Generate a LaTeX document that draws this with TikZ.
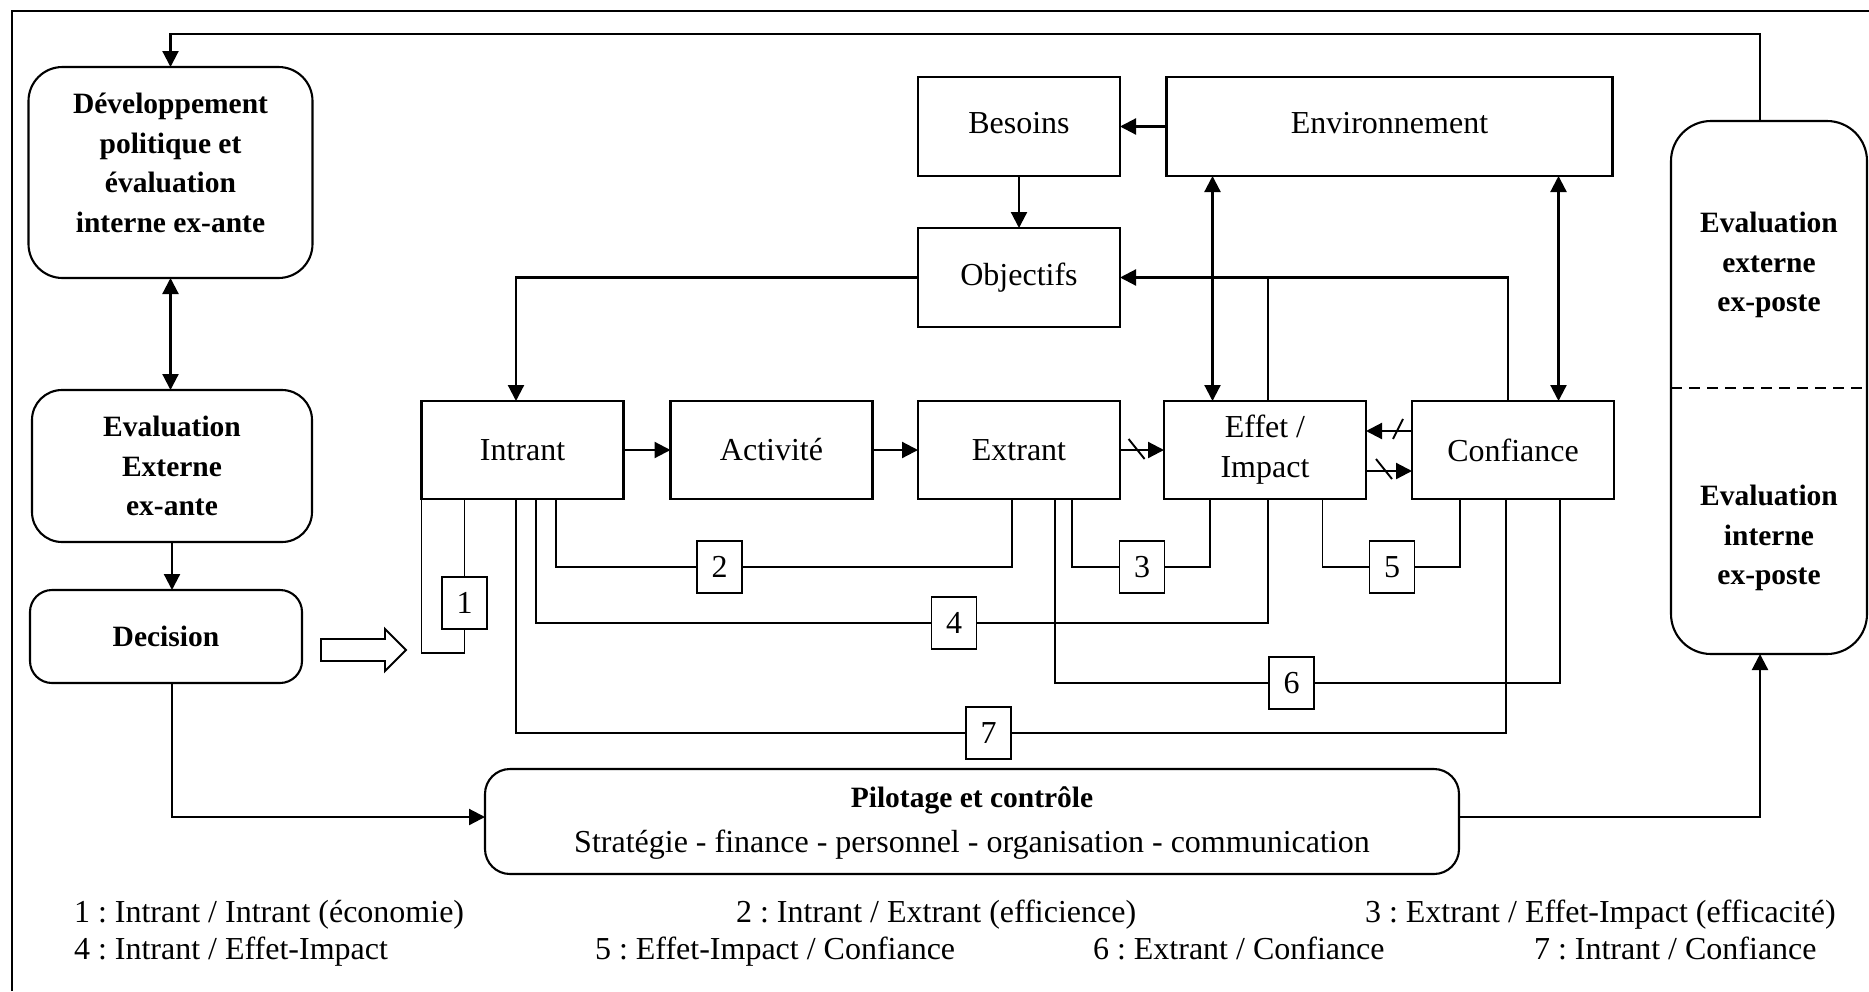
\documentclass[tikz,border=0pt]{standalone}
\usepackage{fontspec}
\setmainfont{Liberation Serif}
\frenchspacing
\usetikzlibrary{arrows.meta,calc}

\begin{document}
\begin{tikzpicture}[x=1pt,y=-1pt,
  every node/.style={inner sep=0pt, outer sep=0pt},
  box/.style={draw, line width=2.1pt, minimum width=202pt, minimum height=99pt,
    font=\fontsize{32}{40}\selectfont, align=center},
  rbox/.style={draw, line width=2.1pt, rounded corners=30pt,
    font=\bfseries\fontsize{29.5}{39.5}\selectfont, align=center},
  btext/.style={font=\bfseries\fontsize{29.5}{39.5}\selectfont, align=center},
  numbox/.style={draw, line width=1.9pt, minimum width=45pt, minimum height=52pt,
    font=\fontsize{32}{40}\selectfont},
  link/.style={line width=1.9pt},
  arr/.style={line width=2.2pt, -{Triangle[length=16pt,width=16pt]}},
  darr/.style={line width=2.2pt, {Triangle[length=16pt,width=16pt]}-{Triangle[length=16pt,width=16pt]}},
  legend/.style={anchor=base west, font=\fontsize{32}{40}\selectfont},
]
\fill[white] (0,0) rectangle (1869,991);
\useasboundingbox (0,0) rectangle (1869,991);

% outer frame
\draw[line width=2.2pt] (12,991) -- (12,11) -- (1869,11);

% left column
\node[rbox, minimum width=284pt, minimum height=211pt, rounded corners=34pt] (devpol) at (170.5,172.5) {};
\node[btext] (devpoltxt) at (170.5,163) {Développement\\politique et\\évaluation\\interne ex-ante};
\node[rbox, minimum width=280pt, minimum height=152pt] (evalante) at (172,466) {Evaluation\\Externe\\ex-ante};
\node[rbox, minimum width=272pt, minimum height=93pt, rounded corners=22pt] (decision) at (166,636.5) {Decision};

% top blocks
\node[box] (besoins) at (1019,126.5) {\raisebox{8pt}{Besoins}};
\node[box, minimum width=446pt] (env) at (1389.5,126.5) {\raisebox{8pt}{Environnement}};
\node[box] (objectifs) at (1019,277.5) {\raisebox{4pt}{Objectifs}};

% main chain
\node[box, minimum height=98pt] (intrant) at (522.5,450) {Intrant};
\node[box, minimum height=98pt] (activite) at (771.5,450) {Activité};
\node[box, minimum height=98pt] (extrant) at (1019,450) {Extrant};
\node[box, minimum height=98pt] (effet) at (1265,450) {Effet /\\Impact};
\node[box, minimum height=98pt] (confiance) at (1513,450) {Confiance};

% steering box
\node[draw, line width=2.1pt, rounded corners=25pt, minimum width=974pt, minimum height=105pt] (pilotage) at (972,821.5) {};
\node[btext] (piltitle) at (972,800) {Pilotage et contrôle};
\node[font=\fontsize{32}{40}\selectfont] (pilsub) at (972,845) {Stratégie - finance - personnel - organisation - communication};

% ex-post evaluation
\node[draw, line width=2.1pt, rounded corners=40pt, minimum width=196pt, minimum height=533pt] (evalpost) at (1769,387.5) {};
\draw[line width=2pt, dash pattern=on 11pt off 7pt] (evalpost.west |- 0,388) -- (evalpost.east |- 0,388);
\node[btext] (evalext) at (1769,265) {Evaluation\\externe\\ex-poste};
\node[btext] (evalint) at (1769,538) {Evaluation\\interne\\ex-poste};

% ratio boxes
\node[numbox] (n1) at (464.5,603) {1};
\node[numbox] (n2) at (719.5,567) {2};
\node[numbox] (n3) at (1142,567) {3};
\node[numbox] (n4) at (954,623) {4};
\node[numbox] (n5) at (1392,567) {5};
\node[numbox] (n6) at (1291.5,683) {6};
\node[numbox] (n7) at (988.5,733) {7};

% feedback from ex-post evaluation to policy development
\draw[arr] ($(evalpost.north)+(-9,0)$) -- ++(0,-87) -| (devpol.north);
\draw[darr] (devpol.south) -- (devpol.south |- evalante.north);
\draw[arr] (evalante.south) -- (evalante.south |- decision.north);
\draw[arr] ($(decision.south)+(6,0)$) |- ($(pilotage.west)+(0,-4.5)$);
\draw[arr] ($(pilotage.east)+(0,-4.5)$) -| ($(evalpost.south)+(-9,0)$);

% decision feeds the inputs
\draw[line width=1.9pt] (321,639) -- (385,639) -- (385,629) -- (406,650) -- (385,671) -- (385,661) -- (321,661) -- cycle;

% needs and objectives
\draw[arr] (env.west) -- (besoins.east);
\draw[arr] (besoins.south) -- (objectifs.north);
\draw[arr] (objectifs.west) -| ($(intrant.north)+(-6.5,0)$);

\coordinate (ea) at ($(effet.north)+(-52.5,0)$);
\coordinate (ca) at ($(confiance.north)+(45.5,0)$);
\draw[darr] (ea) -- (ea |- env.south);
\draw[darr] (ca) -- (ca |- env.south);

\coordinate (eb) at ($(effet.north)+(3,0)$);
\draw[arr] ($(confiance.north)+(-5,0)$) |- (objectifs.east);
\draw[line width=2.2pt] (eb) -- (eb |- objectifs.east);

% chain arrows
\draw[arr] (intrant) -- (activite);
\draw[arr] (activite) -- (extrant);
\draw[arr] (extrant) -- (effet);
\draw[line width=1.9pt] ($(extrant.east)+(8.6,-11)$) -- ++(16,20);
\draw[arr] ($(confiance.west)+(0,-19)$) -- ($(effet.east)+(0,-19)$);
\draw[line width=1.9pt] ($(confiance.west)+(-19,-11)$) -- ++(10,-20);
\draw[arr] ($(effet.east)+(0,21)$) -- ($(confiance.west)+(0,21)$);
\draw[line width=1.9pt] ($(effet.east)+(10,9)$) -- ++(16,20);

% ratio links
\draw[link] (n1.north) -- (n1.north |- intrant.south);
\draw[link] (n1.south) -- ++(0,24) -| (intrant.south west);
\draw[link] (n2.west) -| ($(intrant.south west)+(134.5,0)$);
\draw[link] (n2.east) -| ($(extrant.south west)+(94,0)$);
\draw[link] (n3.west) -| ($(extrant.south west)+(154,0)$);
\draw[link] (n3.east) -| ($(effet.south west)+(46,0)$);
\draw[link] (n4.west) -| ($(intrant.south west)+(114.5,0)$);
\draw[link] (n4.east) -| ($(effet.south west)+(104,0)$);
\draw[link] (n5.west) -| ($(effet.south west)+(158.5,0)$);
\draw[link] (n5.east) -| ($(confiance.south west)+(48,0)$);
\draw[link] (n6.west) -| ($(extrant.south west)+(136.7,0)$);
\draw[link] (n6.east) -| ($(confiance.south west)+(148,0)$);
\draw[link] (n7.west) -| ($(intrant.south west)+(94.5,0)$);
\draw[link] (n7.east) -| ($(confiance.south west)+(94,0)$);

% legend
\node[legend] (l1) at (74,922.5) {1 : Intrant / Intrant (économie)};
\node[legend] (l2) at (736,922.5) {2 : Intrant / Extrant (efficience)};
\node[legend] (l3) at (1365,922.5) {3 : Extrant / Effet-Impact (efficacité)};
\node[legend] (l4) at (74,959.5) {4 : Intrant / Effet-Impact};
\node[legend] (l5) at (595,959.5) {5 : Effet-Impact / Confiance};
\node[legend] (l6) at (1093,959.5) {6 : Extrant / Confiance};
\node[legend] (l7) at (1534,959.5) {7 : Intrant / Confiance};
\end{tikzpicture}
\end{document}
